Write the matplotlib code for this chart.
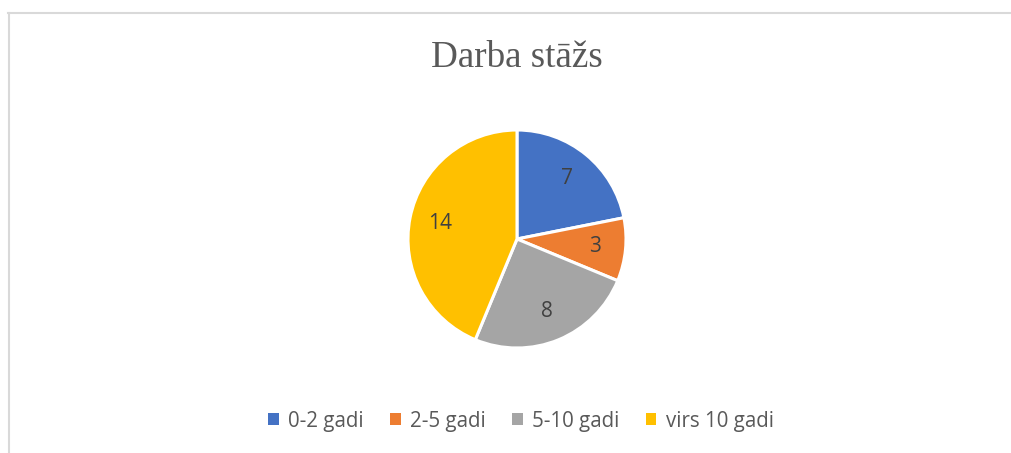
import matplotlib
matplotlib.use('Agg')
from matplotlib import pyplot
from matplotlib.lines import Line2D
from matplotlib.patches import Patch

labels = ['0-2 gadi', '2-5 gadi', '5-10 gadi', 'virs 10 gadi']
values = [7, 3, 8, 14]
colors = ['#4472C4', '#ED7D31', '#A5A5A5', '#FFC000']
title = 'Darba stāžs'

W, H = 1011, 453
fig = pyplot.figure(figsize=(W/100., H/100.), dpi=100)
fig.patch.set_facecolor('white')

# chart border (only top and left visible)
fig.add_artist(Line2D([8./W, 1.], [1-13./H, 1-13./H], color='#d9d9d9', lw=1.5))
fig.add_artist(Line2D([9./W, 9./W], [1-13./H, 0.], color='#d9d9d9', lw=1.5))

cx, cy, r = 517, 239, 109
ax = fig.add_axes([(cx-r)/W, (H-cy-r)/H, 2*r/W, 2*r/H])
wedges, texts = ax.pie(values, colors=colors, startangle=90, counterclock=False,
                       labels=[str(v) for v in values], labeldistance=0.72,
                       wedgeprops=dict(edgecolor='white', linewidth=2.2))
for t in texts:
    t.set_fontsize(15)
    t.set_color('#404040')
    t.set_family('Open Sans')
    t.set_ha('center')
    t.set_va('center')
ax.set_xlim(-1, 1)
ax.set_ylim(-1, 1)
ax.set_aspect('equal')
ax.axis('off')

fig.text(cx/W, 1-58./H, title, ha='center', va='center', fontsize=26.7,
         family='Liberation Serif', color='#595959')

handles = [Patch(facecolor=c, edgecolor='none') for c in colors]
leg = fig.legend(handles, labels, loc='center', bbox_to_anchor=(521./W, 1-421./H),
                 ncol=4, frameon=False, handlelength=0.5, handleheight=0.5,
                 handletextpad=0.45, columnspacing=1.3,
                 prop=dict(family='Open Sans', size=14.8))
for t in leg.get_texts():
    t.set_color('#595959')

fig.savefig('out.png', dpi=100)
